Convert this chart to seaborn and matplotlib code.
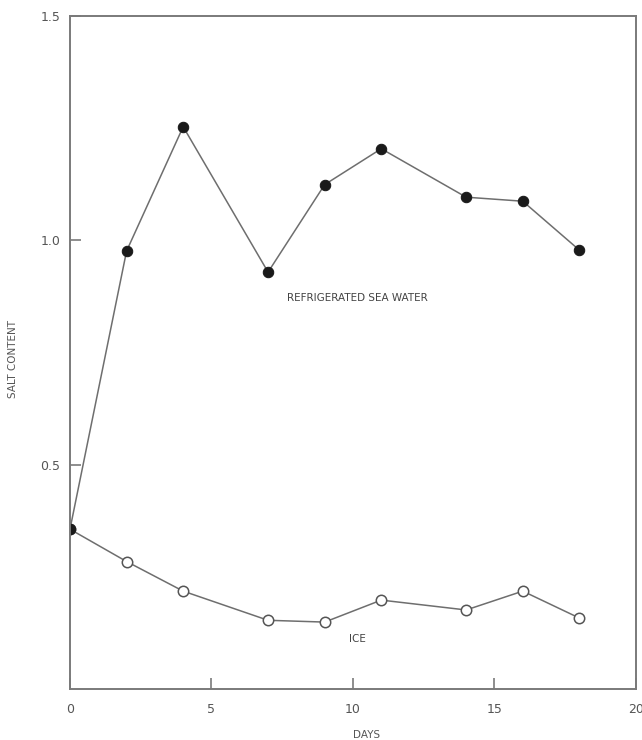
import numpy as np
import pandas as pd
import matplotlib
matplotlib.use("Agg")
import matplotlib.pyplot as plt
import seaborn as sns

# dias de armazenamento
dias_rsw = [0, 2, 4, 7, 9, 11, 14, 16, 18]
sal_rsw = [0.356, 0.976, 1.253, 0.929, 1.124, 1.204, 1.096, 1.087, 0.978]

dias_gelo = [0, 2, 4, 7, 9, 11, 14, 16, 18]
sal_gelo = [0.356, 0.284, 0.218, 0.153, 0.149, 0.198, 0.176, 0.218, 0.158]

x_ticks = [0, 5, 10, 15, 20]
y_ticks = [0.5, 1.0, 1.5]

df_rsw = pd.DataFrame({"DIAS": dias_rsw, "SAL": sal_rsw})
df_gelo = pd.DataFrame({"DIAS": dias_gelo, "SAL": sal_gelo})

sns.set_style("white", {"xtick.bottom": True, "ytick.left": True})
plt.rcParams["font.family"] = ["DejaVu Sans"]

cor_texto = "#555555"
cor_linha = "#6e6e6e"

fig = plt.figure(figsize=(6.42, 7.40), dpi=100)
ax = fig.add_axes([0.109, 0.069, 0.8816, 0.9095])

# gelo primeiro, para o ponto inicial preto ficar por cima
sns.lineplot(data=df_gelo, x="DIAS", y="SAL", ax=ax, color=cor_linha, linewidth=1.1,
             marker="o", markersize=7.5, markerfacecolor="white",
             markeredgecolor="#555555", markeredgewidth=1.1)
sns.lineplot(data=df_rsw, x="DIAS", y="SAL", ax=ax, color=cor_linha, linewidth=1.1,
             marker="o", markersize=7.5, markerfacecolor="#1a1a1a",
             markeredgecolor="#1a1a1a")

ax.set_xlim(0, 20)
ax.set_ylim(0, 1.5)
ax.set_xticks(x_ticks)
ax.set_yticks(y_ticks)
ax.set_xticklabels([str(t) for t in x_ticks])
ax.set_yticklabels(["0.5", "1.0", "1.5"])
ax.tick_params(direction="in", length=8, width=1.2, color="#7a7a7a",
               bottom=True, left=True, labelsize=9, labelcolor=cor_texto)
ax.tick_params(axis="x", pad=10)
ax.tick_params(axis="y", pad=7)

for s in ax.spines.values():
    s.set_color("#7a7a7a")
    s.set_linewidth(1.4)

ax.set_xlabel("DAYS", fontsize=7.5, color=cor_texto)
ax.set_ylabel("SALT CONTENT", fontsize=7.5, color=cor_texto)
ax.xaxis.set_label_coords(0.524, -0.061)
ax.yaxis.set_label_coords(-0.092, 0.49)

ax.text(10.15, 0.871, "REFRIGERATED SEA WATER", fontsize=7.5, color="#444444",
        ha="center", va="center")
ax.text(10.15, 0.111, "ICE", fontsize=7.5, color="#444444", ha="center", va="center")

fig.savefig("out.png", dpi=100)
